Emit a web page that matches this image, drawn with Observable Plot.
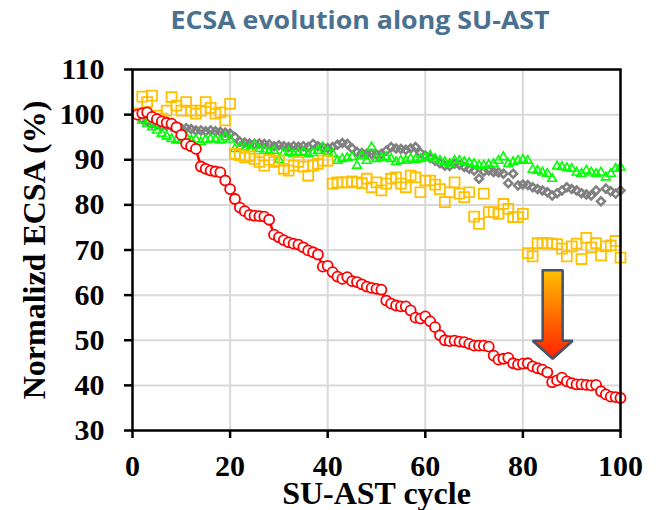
<!DOCTYPE html>
<html>
<head>
<meta charset="utf-8">
<script src="https://cdn.jsdelivr.net/npm/d3@7"></script>
<script src="https://cdn.jsdelivr.net/npm/@observablehq/plot@0.6"></script>
<style>
  html, body { margin: 0; padding: 0; background: #fff; }
  #wrap { position: relative; width: 656px; height: 510px; }
  #title { position: absolute; left: 360px; top: 2px; transform: translateX(-50%) scaleX(1.07); white-space: nowrap;
    font-family: "Open Sans", sans-serif; font-weight: 700; font-size: 25px; color: #4a7190; }
  #chart { position: absolute; left: 0; top: 44px; }
  #chart g[aria-label="x-axis tick"] path, #chart g[aria-label="y-axis tick"] path,
  #chart g[aria-label="x-axis"] line, #chart g[aria-label="y-axis"] line { stroke-width: 2.5px; }
</style>
</head>
<body>
<div id="wrap">
  <div id="title">ECSA evolution along SU-AST</div>
  <div id="chart"></div>
</div>
<script>
const xTicks = [0, 20, 40, 60, 80, 100];
const yTicks = [30, 40, 50, 60, 70, 80, 90, 100, 110];

// Normalized ECSA (%) per SU-AST cycle (cycles 1..100)
const redSeries = [100, 100.3, 100.5, 99.5, 99, 98.5, 98.2, 98.0, 97.2, 95.5,
  93.5, 93, 92.4, 88.5, 88, 87.6, 87.4, 87.2, 85.4, 83.5,
  81.3, 79.4, 78.6, 77.8, 77.6, 77.5, 77.4, 76.7, 73.4, 72.8,
  72.2, 71.7, 71.4, 71.2, 70.6, 69.9, 69.5, 69.0, 66.3, 66.5,
  65.1, 64.1, 63.6, 64.0, 63.1, 62.9, 62.4, 61.9, 61.6, 61.4,
  61.2, 58.8, 58.1, 57.7, 57.5, 57.5, 56.6, 55.0, 54.8, 55.3,
  54.2, 52.9, 51.1, 50.0, 49.8, 49.9, 49.7, 49.6, 49.2, 48.8,
  48.8, 48.8, 48.6, 46.6, 45.7, 45.9, 46.1, 44.9, 44.6, 44.8,
  44.9, 44.2, 43.8, 43.5, 42.9, 40.7, 41.1, 41.7, 40.9, 40.5,
  40.2, 40.2, 40.1, 40.0, 40.1, 38.7, 38.0, 37.5, 37.4, 37.2];

const graySeries = [100, 99, 98.5, 98, 97.8, 97.5, 97.5, 97.3, 97, 97,
  97, 96.8, 96.5, 96.5, 96.3, 96.5, 96.3, 96.2, 96, 95.8,
  95, 94, 93.8, 93.6, 93.5, 93.6, 93.5, 93.4, 93, 93.2,
  93, 92.8, 93, 92.9, 93, 92.8, 93.5, 93, 92.8, 92.6,
  92.8, 93.3, 93.7, 93.5, 92.5, 91.7, 91.5, 91.3, 91.3, 91.2,
  91.3, 92, 92.8, 92.5, 92.4, 92.2, 92.5, 92.8, 91.5, 90.9,
  90.4, 89.8, 89.2, 88.7, 88.6, 89.1, 88.9, 88.4, 88, 87.6,
  85.8, 87.4, 87.6, 87.3, 87.2, 86.9, 84.8, 86.9, 84.3, 84.5,
  84.4, 83.9, 83.5, 83.2, 82.8, 82.1, 82.6, 83.2, 83.9, 83.5,
  83.2, 82.6, 82.3, 82.1, 83.2, 80.8, 83.6, 83, 82.5, 83.2];

const greenSeries = [100, 98.7, 98, 97.2, 96.5, 95.8, 95.2, 94.6, 94.3, 94.3,
  95, 94.3, 94.5, 93.9, 94.4, 94.6, 94.5, 94.3, 95, 94.5,
  92.4, 92.8, 92.6, 92.4, 93.2, 92.4, 92, 91.7, 92, 90,
  91.5, 91.7, 91.3, 91.5, 91.7, 91.3, 91.5, 92, 92.8, 91.8,
  91.3, 89.8, 90.2, 90.4, 90.6, 88.7, 90.9, 89.8, 92.8, 90.2,
  90.4, 90.6, 90.2, 89.5, 89.8, 89.8, 90.2, 90, 90.2, 90.5,
  90.9, 90.2, 89.8, 89.5, 89.1, 89.8, 89.8, 89.5, 89.3, 89.1,
  88.7, 88.7, 88.9, 89.1, 89.8, 90.6, 89.1, 89.5, 89.8, 90,
  89.8, 87.8, 87.6, 87.2, 86.9, 85.8, 88.5, 88.4, 88.2, 88,
  87.2, 86.9, 87.6, 87.2, 86.9, 87.2, 86.1, 86.9, 88, 88.3];

const orangeSeries = [100.3, 104, 102.8, 104.2, 99.8, 99.1, 100.9, 103.9, 102, 100.9,
  102.8, 100.9, 100.2, 100.9, 102.8, 101.5, 100.2, 100.5, 98.7, 102.4,
  91.3, 91, 90.5, 90.8, 90.2, 89.5, 88.7, 90, 89.5, 89.8,
  88, 87.6, 88.7, 89.5, 88.5, 86.5, 88.7, 89.1, 89.8, 89.8,
  84.7, 85, 85, 85, 85.2, 85, 84.8, 85.8, 83.9, 85,
  83.2, 84.7, 85.8, 86.1, 84.7, 83.9, 86.5, 86.1, 82.8, 85.4,
  85.4, 84.5, 83.5, 80.6, 82.8, 85, 82.5, 81.7, 82.8, 77.4,
  75.8, 82.5, 78.4, 78.4, 78, 80.2, 79.1, 77.3, 77.3, 78,
  69.3, 68.6, 71.5, 71.5, 71.5, 71.4, 71.3, 70.3, 68.6, 70.8,
  71.4, 68, 72.7, 70.6, 71.5, 68.8, 70.8, 71, 72, 68.3];

// Arrow annotation (data coordinates)
const arrowX = [84.05, 88.15, 88.15, 90.2, 86.1, 82.0, 84.05, 84.05];
const arrowY = [65.5, 65.5, 49.9, 49.9, 45.9, 49.9, 49.9, 65.5];

const toPts = (vals) => vals.map((v, i) => ({c: i + 1, v}));
const red = toPts(redSeries), gray = toPts(graySeries), green = toPts(greenSeries), orange = toPts(orangeSeries);
const arrow = arrowX.map((x, i) => ({x, y: arrowY[i]}));

const plot = Plot.plot({
  width: 656,
  height: 466,
  marginTop: 25,
  marginBottom: 80,
  marginLeft: 132,
  marginRight: 36,
  style: {fontFamily: "'Liberation Serif', 'Times New Roman', serif", fontSize: "30px", fontWeight: "bold", color: "black", background: "white", overflow: "visible"},
  x: {domain: [0, 100], ticks: xTicks, tickSize: 8, tickPadding: 16, label: null},
  y: {domain: [30, 110], ticks: yTicks, tickSize: 8, tickPadding: 20, label: null},
  marks: [
    Plot.ruleX([20, 40, 60, 80], {stroke: "#d9d9d9", strokeWidth: 2}),
    Plot.ruleY([40, 50, 60, 70, 80, 90, 100], {stroke: "#d9d9d9", strokeWidth: 2}),
    Plot.dot(gray, {x: "c", y: "v", symbol: "diamond2", r: 3.6, stroke: "#808080", strokeWidth: 2.5, fill: "none"}),
    Plot.dot(green, {x: "c", y: "v", symbol: "triangle2", r: 4.2, stroke: "#00ff00", strokeWidth: 1.6, fill: "none"}),
    Plot.dot(orange, {x: "c", y: "v", symbol: "square", r: 5.6, stroke: "#ffc000", strokeWidth: 1.8, fill: "none"}),
    Plot.line(red, {x: "c", y: "v", stroke: "#ff0000", strokeWidth: 2.5}),
    Plot.dot(red, {x: "c", y: "v", symbol: "circle", r: 5, stroke: "#ff0000", strokeWidth: 1.8, fill: "white"}),
    Plot.line(arrow, {x: "x", y: "y", fill: "url(#arrowGrad)", stroke: "#44546a", strokeWidth: 2.5, strokeLinejoin: "miter", curve: "linear"}),
    Plot.frame({stroke: "black", strokeWidth: 2.5}),
    Plot.text(["SU-AST cycle"], {frameAnchor: "bottom", lineAnchor: "middle", textAnchor: "middle", dy: 63, fontSize: 32, fontWeight: "bold", fill: "black"}),
    Plot.text(["Normalizd ECSA (%)"], {frameAnchor: "left", lineAnchor: "middle", textAnchor: "middle", dx: -98, rotate: -90, fontSize: 32, fontWeight: "bold", fill: "black"})
  ]
});

const svg = d3.select(plot.tagName.toLowerCase() === "svg" ? plot : plot.querySelector("svg"));
const defs = svg.insert("defs", ":first-child");
const grad = defs.append("linearGradient").attr("id", "arrowGrad").attr("x1", 0).attr("y1", 0).attr("x2", 0).attr("y2", 1);
grad.append("stop").attr("offset", "0%").attr("stop-color", "#ffc000");
grad.append("stop").attr("offset", "100%").attr("stop-color", "#ff2000");

document.getElementById("chart").appendChild(plot);
</script>
</body>
</html>
